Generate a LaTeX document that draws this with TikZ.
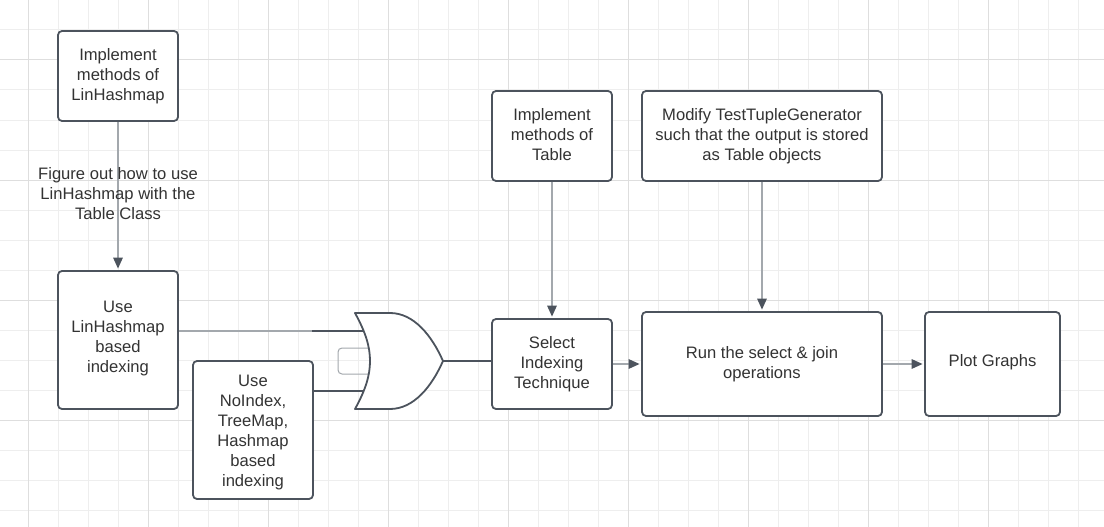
\documentclass[tikz,border=0pt]{standalone}
\usepackage{fontspec}
\setmainfont{Liberation Sans}
\usepackage{tikz}
\usetikzlibrary{arrows.meta}

\definecolor{boxline}{HTML}{4C535D}
\definecolor{wireline}{HTML}{A3A8AD}
\definecolor{labeltext}{HTML}{333333}
\definecolor{gridminor}{HTML}{EEEEEE}
\definecolor{gridmajor}{HTML}{DEDEDE}

\tikzset{
	procbox/.style={draw=boxline, fill=white, line width=1.8pt, rounded corners=4pt, align=center, text=labeltext, inner sep=0pt, font=\fontsize{16.6}{20}\selectfont},
	flowline/.style={draw=wireline, line width=1.5pt, shorten >=1.5pt, -{Triangle[length=11pt, width=9.5pt, color=boxline]}},
	gatewire/.style={draw=boxline, line width=1.8pt}
}

\begin{document}
\begin{tikzpicture}[x=1pt, y=-1pt]
	\useasboundingbox (0,0) rectangle (1104,527);
	\fill[white] (0,0) rectangle (1104,527);
	
	% Background grid
	\foreach \gx in {58,88,118,178,208,238,298,328,358,418,448,478,538,568,598,658,688,718,778,808,838,898,928,958,1018,1048,1078}
		\draw[gridminor, line width=1pt] (\gx,0) -- (\gx,527);
	\foreach \gy in {0,30,90,120,150,210,240,270,330,360,390,450,480,510}
		\draw[gridminor, line width=1pt] (0,\gy) -- (1104,\gy);
	\foreach \gx in {28,148,268,388,508,628,748,868,988}
		\draw[gridmajor, line width=1pt] (\gx,0) -- (\gx,527);
	\foreach \gy in {60,180,300,420}
		\draw[gridmajor, line width=1pt] (0,\gy) -- (1104,\gy);
	
	% Left column
	\node[procbox, minimum width=120pt, minimum height=90pt] (implhash) at (118,76) {Implement\\methods of\\LinHashmap};
	\node[procbox, minimum width=120pt, minimum height=138pt, text depth=5.5pt] (usehash) at (118,340) {Use\\LinHashmap\\based\\indexing};
	\node[procbox, minimum width=120pt, minimum height=138pt] (useother) at (253,430) {\mbox{}\\[-4pt]Use\\NoIndex,\\TreeMap,\\Hashmap\\based\\indexing};
	
	% Top row
	\node[procbox, minimum width=120pt, minimum height=90pt, text depth=3.5pt] (impltable) at (552,136) {Implement\\methods of\\Table};
	\node[procbox, minimum width=240pt, minimum height=90pt, text depth=3pt] (modify) at (762,136) {Modify TestTupleGenerator\\such that the output is stored\\as Table objects};
	
	% Bottom row
	\node[procbox, minimum width=120pt, minimum height=90pt, text depth=3pt] (selecttech) at (552,364) {Select\\Indexing\\Technique};
	\node[procbox, minimum width=240pt, minimum height=104pt] (runops) at (762,364) {Run the select \& join\\operations};
	\node[procbox, minimum width=135pt, minimum height=104pt, text depth=7.5pt] (plot) at (992.5,364) {Plot Graphs};
	
	% Gate end points
	\coordinate (orjoin) at (312,331);
	\coordinate (orinA) at (366,331);
	\coordinate (orinB) at (366,391);
	\coordinate (orout) at (443,361);
	
	% Wires into the gate
	\draw[draw=wireline, line width=1.5pt] (usehash.east |- orjoin) -- (orjoin);
	\draw[gatewire] (orjoin) -- (orinA);
	\draw[gatewire] (useother.east |- orinB) -- (orinB);
	\draw[gatewire] (orout) -- (selecttech.west |- orout);
	
	% Faint box behind the gate
	\draw[wireline, line width=1pt, rounded corners=4pt] (338,348) rectangle (372,374);
	
	% Gate
	\draw[gatewire, fill=white, line join=round] (355,313) -- (390,313) .. controls (414,313) and (432,336) .. (orout) .. controls (432,386) and (414,409) .. (390,409) -- (355,409) .. controls (366,389) and (370,375) .. (370,361) .. controls (370,347) and (366,333) .. cycle;
	
	% Arrows
	\draw[flowline] (implhash) -- (usehash);
	\draw[flowline] (impltable) -- (selecttech);
	\draw[flowline] (modify) -- (runops);
	\draw[flowline] (selecttech) -- (runops);
	\draw[flowline] (runops) -- (plot);
	
	% Label on the first arrow
	\node[align=center, text=labeltext, font=\fontsize{16.6}{20}\selectfont] (hashlabel) at (118,194) {Figure out how to use\\LinHashmap with the\\Table Class};
\end{tikzpicture}
\end{document}
